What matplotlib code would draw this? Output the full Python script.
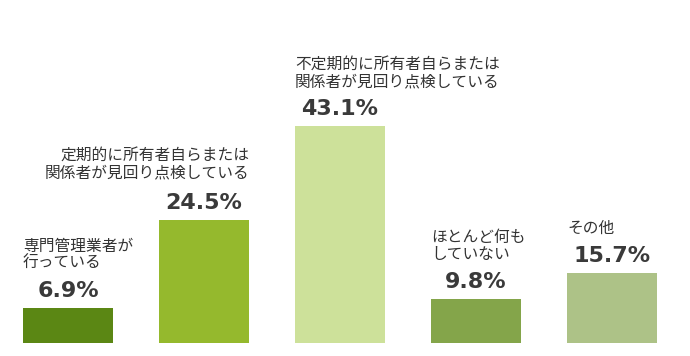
import matplotlib.pyplot as plt
import numpy as np

plt.rcParams['font.family'] = ['Noto Sans CJK JP', 'DejaVu Sans']

# data
categories = [
    "専門管理業者が\n行っている",
    "定期的に所有者自らまたは\n関係者が見回り点検している",
    "不定期的に所有者自らまたは\n関係者が見回り点検している",
    "ほとんど何も\nしていない",
    "その他",
]
values = [6.9, 24.5, 43.1, 9.8, 15.7]

colors = ["#5b8714", "#95b92d", "#cde19a", "#84a54a", "#adc287"]
label_side = ["left", "right", "left", "left", "left"]
# the last two bars use a slightly different scale in the original picture
scale_group = [0, 0, 0, 1, 1]

fig = plt.figure(figsize=(6.9, 3.56), dpi=100)
ax = fig.add_axes([0, 13 / 356, 1, 343 / 356])
ax2 = ax.twinx()

x = np.arange(len(values))
width = 90 / 136

for a in (ax, ax2):
    a.set_xlim(-0.5, 622 / 136)
    a.axis("off")
ax.set_ylim(0, 68.2)
ax2.set_ylim(0, 76.7)

for xi, v, cat, side, c, g in zip(x, values, categories, label_side, colors, scale_group):
    a = ax if g == 0 else ax2
    a.bar(xi, v, width=width, color=c)
    # value label
    a.annotate(f"{v:.1f}%", xy=(xi, v), xytext=(0, 8), textcoords="offset points",
               ha="center", va="baseline", fontsize=16, fontweight="bold",
               color="#3a3a3a", family="DejaVu Sans")
    # category label
    if side == "left":
        a.annotate(cat, xy=(xi - width / 2, v), xytext=(0, 26), textcoords="offset points",
                   ha="left", va="bottom", fontsize=11.3, color="#333333",
                   linespacing=1.0, multialignment="left")
    else:
        a.annotate(cat, xy=(xi + width / 2, v), xytext=(0, 28), textcoords="offset points",
                   ha="right", va="bottom", fontsize=11.3, color="#333333",
                   linespacing=1.0, multialignment="right")

fig.savefig("out.png", dpi=100)
